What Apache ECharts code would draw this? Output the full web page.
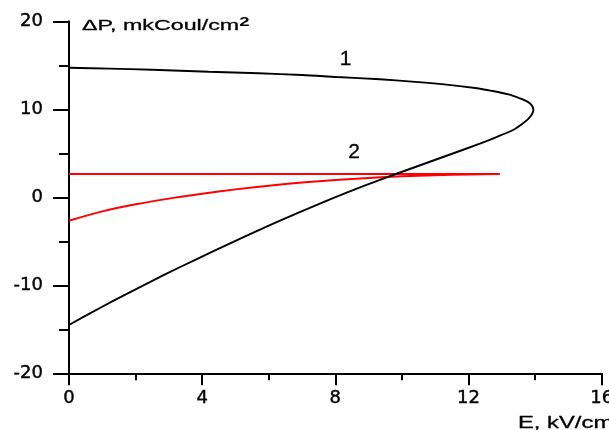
<!DOCTYPE html>
<html>
<head>
<meta charset="utf-8">
<script src="https://cdn.jsdelivr.net/npm/echarts@6/dist/echarts.min.js"></script>
<style>
  html, body { margin: 0; padding: 0; background: #fff; }
  #chart { width: 609px; height: 430px; }
</style>
</head>
<body>
<div id="chart"></div>
<script>
// Curve 1: upper part from E=0 to the turning point, then back along the lower part
const curve1E = [0, 1.2, 2.5, 4.2, 5.7, 7.0, 8.05, 9.34, 10.3, 11.34, 12.2, 12.7, 13.2, 13.54, 13.78, 13.9, 13.95,
                 13.9, 13.78, 13.58, 13.34, 12.84, 12.34, 11.34, 10.34, 9.34, 8.34, 7.34, 6.34, 5.34, 4.34, 3.34, 2.34, 1.34, 0.6, 0];
const curve1P = [14.73, 14.62, 14.5, 14.27, 14.09, 13.9, 13.67, 13.41, 13.15, 12.8, 12.42, 12.1, 11.7, 11.25, 10.85, 10.45, 9.95,
                 9.4, 8.85, 8.25, 7.65, 6.85, 6.1, 4.72, 3.36, 1.98, 0.52, -1.02, -2.64, -4.35, -6.12, -7.92, -9.8, -11.75, -13.25, -14.51];

// Curve 2: flat upper part out to E=12.94, then the lower part back to E=0
const curve2E = [0, 12.94, 12, 11, 10, 9, 8, 7, 6, 5, 4, 3, 2, 1, 0];
const curve2P = [2.65, 2.65, 2.6, 2.51, 2.38, 2.2, 1.96, 1.67, 1.32, 0.9, 0.4, -0.15, -0.8, -1.6, -2.66];

// Curve number labels, placed in data coordinates
const curveTags = ['1', '2'];
const curveTagE = [8.31, 8.56];
const curveTagP = [15.69, 5.09];

// Axis ranges: min, max, interval
const xRange = [0, 16, 4];
const yRange = [-20, 20, 10];

const yTitleMain = 'ΔP, mkCoul/cm';
const yTitleSup = '2';
const xTitle = 'E, kV/cm';

const pairs = (xs, ys) => xs.map((x, i) => [x, ys[i]]);

const chart = echarts.init(document.getElementById('chart'), null, { renderer: 'canvas' });

// slight outline gives the labels a heavier stroke
const tickFont = {
  fontFamily: 'DejaVu Sans', fontSize: 18, color: '#000',
  textBorderColor: '#000', textBorderWidth: 0.4
};

const tagPoint = (i) => ({
  name: curveTags[i],
  coord: [curveTagE[i], curveTagP[i]],
  symbol: 'circle',
  symbolSize: 1,
  itemStyle: { color: 'rgba(0,0,0,0)' },
  label: {
    show: true, position: 'inside', formatter: '{b}',
    fontFamily: 'Liberation Sans', fontSize: 21, color: '#000',
    textBorderColor: '#000', textBorderWidth: 0.3
  }
});

chart.setOption({
  animation: false,
  backgroundColor: '#fff',
  grid: { left: 69, right: 7.3, top: 21.3, bottom: 56.7, containLabel: false, outerBoundsMode: 'none' },
  xAxis: {
    type: 'value', min: xRange[0], max: xRange[1], interval: xRange[2],
    axisLine: { show: true, onZero: false, lineStyle: { color: '#000', width: 2 } },
    axisTick: { show: true, inside: false, length: 12, lineStyle: { color: '#000', width: 2 } },
    minorTick: { show: true, splitNumber: 2, length: 7, lineStyle: { color: '#000', width: 2 } },
    splitLine: { show: false },
    minorSplitLine: { show: false },
    axisLabel: Object.assign({ margin: 16, showMinLabel: true, showMaxLabel: true, hideOverlap: false }, tickFont)
  },
  yAxis: {
    type: 'value', min: yRange[0], max: yRange[1], interval: yRange[2],
    axisLine: { show: true, onZero: false, lineStyle: { color: '#000', width: 2 } },
    axisTick: { show: true, inside: false, length: 16, lineStyle: { color: '#000', width: 2 } },
    minorTick: { show: true, splitNumber: 2, length: 10, lineStyle: { color: '#000', width: 2 } },
    splitLine: { show: false },
    minorSplitLine: { show: false },
    axisLabel: Object.assign({ margin: 26 }, tickFont)
  },
  series: [
    {
      name: '1', type: 'line', data: pairs(curve1E, curve1P),
      showSymbol: false, symbol: 'none', smooth: 0.3,
      lineStyle: { color: '#000', width: 1.9 },
      z: 3,
      markPoint: { silent: true, data: [tagPoint(0)] }
    },
    {
      name: '2', type: 'line', data: pairs(curve2E, curve2P),
      showSymbol: false, symbol: 'none', smooth: 0.3,
      lineStyle: { color: '#ff0000', width: 2 },
      z: 2,
      markPoint: { silent: true, data: [tagPoint(1)] }
    }
  ],
  graphic: [
    {
      type: 'text', x: 82, y: 26, scaleX: 1.55, scaleY: 1,
      style: {
        text: '{a|' + yTitleMain + '}{s|' + yTitleSup + '}',
        verticalAlign: 'middle', align: 'left',
        rich: {
          a: { fontFamily: 'Liberation Sans', fontSize: 15, lineHeight: 18, fill: '#000',
               stroke: '#000', lineWidth: 0.3 },
          s: { fontFamily: 'Liberation Sans', fontSize: 12, fontWeight: 'bold', lineHeight: 8,
               verticalAlign: 'top', fill: '#000' }
        }
      }
    },
    {
      type: 'text', x: 518, y: 423, scaleX: 1.4, scaleY: 1,
      style: { text: xTitle, font: '17px "Liberation Sans"', fill: '#000', verticalAlign: 'middle', align: 'left',
               stroke: '#000', lineWidth: 0.3 }
    }
  ]
});
</script>
</body>
</html>
